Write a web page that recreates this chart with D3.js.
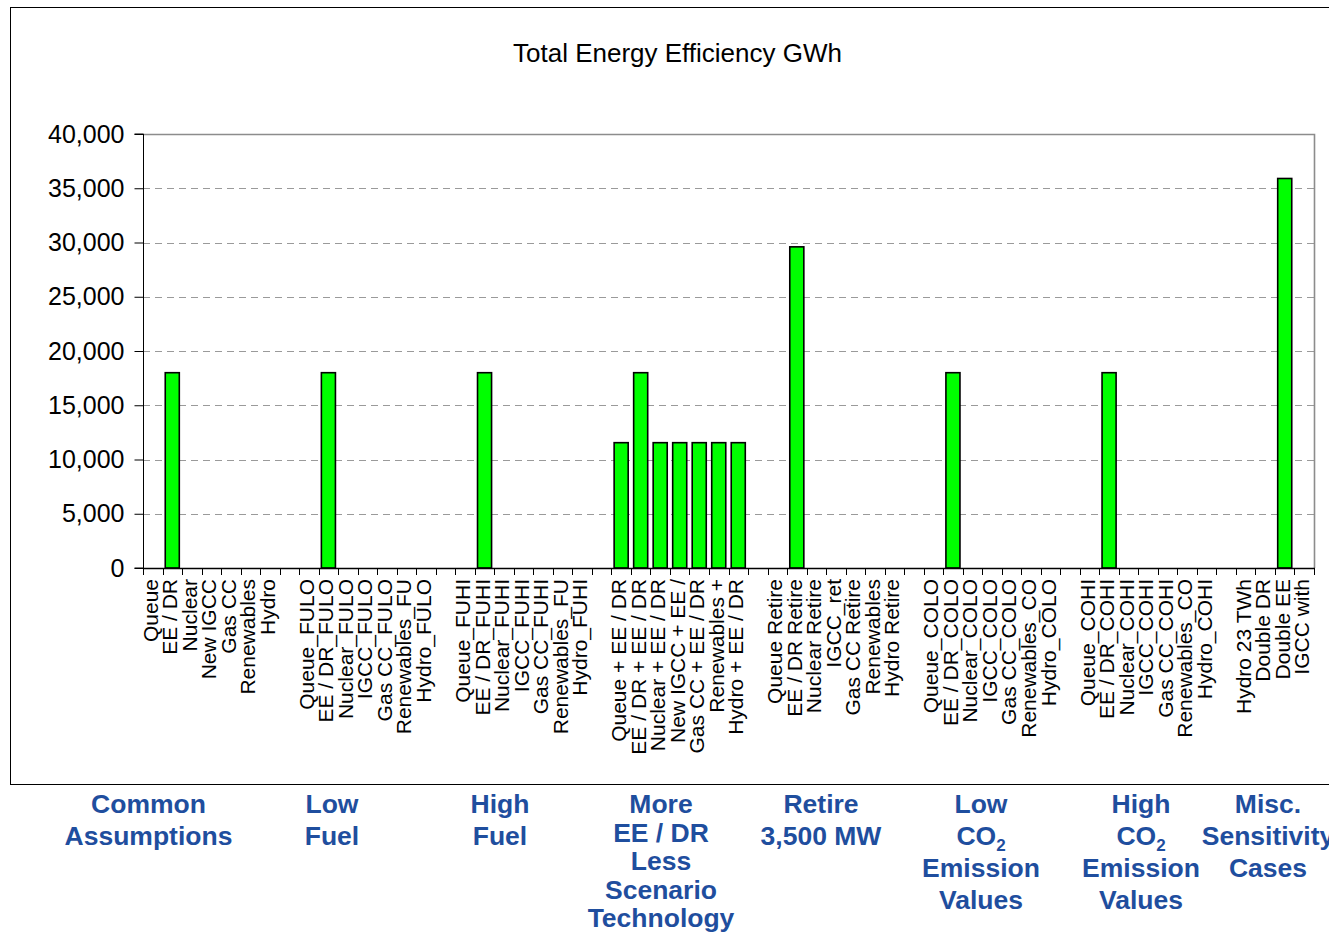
<!DOCTYPE html>
<html>
<head>
<meta charset="utf-8">
<script src="https://cdn.jsdelivr.net/npm/d3@7"></script>
<style>
  html, body { margin: 0; padding: 0; background: #fff; }
  svg { display: block; font-family: "Liberation Sans", Arial, sans-serif; }
</style>
</head>
<body>
<svg id="chart" width="1329" height="933"></svg>
<script>
// ---- data ----
const title = "Total Energy Efficiency GWh";
const categories = [
  "Queue", "EE / DR", "Nuclear", "New IGCC", "Gas CC", "Renewables", "Hydro", "",
  "Queue_FULO", "EE / DR_FULO", "Nuclear_FULO", "IGCC_FULO", "Gas CC_FULO", "Renewables_FU", "Hydro_FULO", "",
  "Queue_FUHI", "EE / DR_FUHI", "Nuclear_FUHI", "IGCC_FUHI", "Gas CC_FUHI", "Renewables_FU", "Hydro_FUHI", "",
  "Queue + EE / DR", "EE / DR + EE / DR", "Nuclear + EE / DR", "New IGCC + EE /", "Gas CC + EE / DR", "Renewables +", "Hydro + EE / DR", "",
  "Queue Retire", "EE / DR Retire", "Nuclear Retire", "IGCC_ret", "Gas CC Retire", "Renewables", "Hydro Retire", "",
  "Queue_COLO", "EE / DR_COLO", "Nuclear_COLO", "IGCC_COLO", "Gas CC_COLO", "Renewables_CO", "Hydro_COLO", "",
  "Queue_COHI", "EE / DR_COHI", "Nuclear_COHI", "IGCC_COHI", "Gas CC_COHI", "Renewables_CO", "Hydro_COHI", "",
  "Hydro 23 TWh", "Double DR", "Double EE", "IGCC with"
];
const values = [
  0, 18000, 0, 0, 0, 0, 0, 0,
  0, 18000, 0, 0, 0, 0, 0, 0,
  0, 18000, 0, 0, 0, 0, 0, 0,
  11550, 18000, 11550, 11550, 11550, 11550, 11550, 0,
  0, 29600, 0, 0, 0, 0, 0, 0,
  0, 18000, 0, 0, 0, 0, 0, 0,
  0, 18000, 0, 0, 0, 0, 0, 0,
  0, 0, 35900, 0
];
const yTicks = [0, 5000, 10000, 15000, 20000, 25000, 30000, 35000, 40000];
const groupLabels = [
  ["Common", "Assumptions"],
  ["Low", "Fuel"],
  ["High", "Fuel"],
  ["More", "EE / DR", "Less", "Scenario", "Technology"],
  ["Retire", "3,500 MW"],
  ["Low", "CO2", "Emission", "Values"],
  ["High", "CO2", "Emission", "Values"],
  ["Misc.", "Sensitivity", "Cases"]
];

// ---- layout ----
const groupCenterX = [148.5, 332, 500, 661, 821, 981, 1141, 1268];
const lineGap = [32, 32, 32, 28.5, 32, 32, 32, 32];

const svg = d3.select("#chart");
const plot = { left: 143, right: 1314, top: 134, bottom: 568 };
const blue = "#1f4e9e";

// outer frame (its right edge falls outside the picture)
svg.append("rect")
  .attr("x", 10.5).attr("y", 7.5)
  .attr("width", 1345).attr("height", 777)
  .attr("fill", "none").attr("stroke", "#000").attr("stroke-width", 1);

svg.append("text")
  .attr("x", 677.5).attr("y", 62)
  .attr("text-anchor", "middle")
  .attr("font-size", 26)
  .attr("fill", "#000")
  .text(title);

const x = d3.scaleBand()
  .domain(d3.range(categories.length))
  .range([plot.left, plot.right])
  .paddingInner(0.28).paddingOuter(0.14);

const xb = d3.scaleBand()
  .domain(d3.range(categories.length))
  .range([plot.left, plot.right]);

const y = d3.scaleLinear().domain([0, 40000]).range([plot.bottom, plot.top]);

// gridlines
svg.append("g")
  .selectAll("line")
  .data(yTicks.filter(t => t > 0 && t < 40000))
  .join("line")
  .attr("x1", plot.left).attr("x2", plot.right)
  .attr("y1", d => Math.round(y(d)) + 0.5).attr("y2", d => Math.round(y(d)) + 0.5)
  .attr("stroke", "#9a9a9a").attr("stroke-width", 1)
  .attr("stroke-dasharray", "7,5");

// top and right border of plot area
svg.append("path")
  .attr("d", `M${plot.left},${plot.top + 0.5}H${plot.right + 0.5}V${plot.bottom}`)
  .attr("fill", "none").attr("stroke", "#8c8c8c").attr("stroke-width", 1.6);

// bars
svg.append("g")
  .selectAll("rect")
  .data(values.map((v, i) => ({ i, v })).filter(d => d.v > 0))
  .join("rect")
  .attr("x", d => x(d.i))
  .attr("width", x.bandwidth())
  .attr("y", d => y(d.v))
  .attr("height", d => y(0) - y(d.v))
  .attr("fill", "#00ff00")
  .attr("stroke", "#000")
  .attr("stroke-width", 1.6);

// y axis
const yAxis = d3.axisLeft(y)
  .tickValues(yTicks)
  .tickSize(9)
  .tickPadding(10)
  .tickFormat(d3.format(","));
const gy = svg.append("g")
  .attr("transform", `translate(${plot.left + 0.5},0)`)
  .call(yAxis);
gy.select(".domain").attr("stroke", "#000").attr("d", `M-9,${plot.bottom}H0V${plot.top}H-9`);
gy.selectAll(".tick line").attr("stroke", "#000");
gy.selectAll(".tick text")
  .attr("font-size", 25)
  .attr("font-family", "Liberation Sans, Arial, sans-serif")
  .attr("fill", "#000");

// x axis with tick marks at band boundaries
const boundaries = d3.range(categories.length + 1).map(i => plot.left + i * xb.step());
svg.append("line")
  .attr("x1", plot.left).attr("x2", plot.right + 1)
  .attr("y1", plot.bottom + 0.5).attr("y2", plot.bottom + 0.5)
  .attr("stroke", "#000").attr("stroke-width", 1.3);
svg.append("g")
  .selectAll("line")
  .data(boundaries)
  .join("line")
  .attr("x1", d => Math.round(d) + 0.5).attr("x2", d => Math.round(d) + 0.5)
  .attr("y1", plot.bottom).attr("y2", plot.bottom + 7)
  .attr("stroke", "#000").attr("stroke-width", 1);

// category labels (rotated)
svg.append("g")
  .selectAll("text")
  .data(categories.map((c, i) => ({ c, i })).filter(d => d.c !== ""))
  .join("text")
  .attr("transform", d => `translate(${xb(d.i) + xb.bandwidth() / 2 + 5},579) rotate(-90)`)
  .attr("text-anchor", "end")
  .attr("font-size", 21)
  .attr("fill", "#000")
  .text(d => d.c);

// group labels
groupLabels.forEach((lines, g) => {
  const cx = groupCenterX[g];
  lines.forEach((ln, k) => {
    const t = svg.append("text")
      .attr("x", cx)
      .attr("y", 813 + k * lineGap[g])
      .attr("text-anchor", "middle")
      .attr("font-size", 26.5)
      .attr("font-weight", "bold")
      .attr("fill", blue);
    if (ln === "CO2") {
      t.append("tspan").text("CO");
      t.append("tspan").attr("font-size", 17).attr("dy", 6).text("2");
    } else {
      t.text(ln);
    }
  });
});
</script>
</body>
</html>
